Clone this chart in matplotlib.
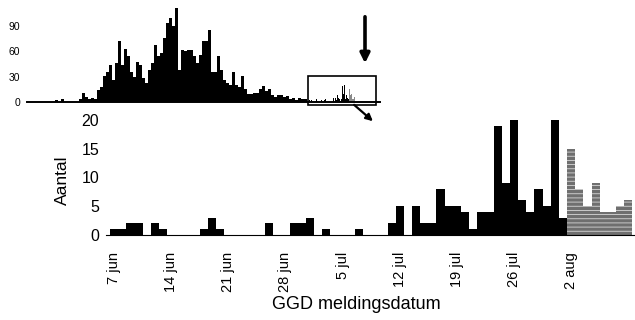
import numpy as np
import matplotlib
matplotlib.use("Agg")
import matplotlib.pyplot as plt
from matplotlib.patches import Rectangle, FancyArrowPatch

plt.rcParams['font.family'] = ['Liberation Sans', 'DejaVu Sans']
plt.rcParams['hatch.linewidth'] = 0.6

# ---------------- data ----------------
# daily notifications from 7 jun (day 0) to 9 aug (day 63)
main_counts = [1, 1, 2, 2, 0, 2, 1, 0, 0, 0,
               0, 1, 3, 1, 0, 0, 0, 0, 0, 2,
               0, 0, 2, 2, 3, 0, 1, 0, 0, 0,
               1, 0, 0, 0, 2, 5, 0, 5, 2, 2,
               8, 5, 5, 4, 1, 4, 4, 19, 9, 20,
               6, 4, 8, 5, 20, 3, 15, 8, 5, 9,
               4, 4, 5, 6]
incomplete_from = 56          # days from this index on are shown grey (incomplete)
tick_days = [0, 7, 14, 21, 28, 35, 42, 49, 56]
tick_labels = ['7 jun', '14 jun', '21 jun', '28 jun', '5 jul', '12 jul',
               '19 jul', '26 jul', '2 aug']

# inset: earlier course of the outbreak, 4-day bins starting 336 days before 7 jun
inset_bin_days = 4
inset_start_day = -336
inset_early = [2, 0, 3, 0, 0, 0, 0, 0, 3, 11,
               6, 4, 5, 4, 14, 18, 31, 36, 44, 26,
               46, 72, 44, 63, 54, 36, 30, 48, 44, 28,
               23, 38, 46, 68, 54, 58, 76, 94, 100, 90,
               111, 38, 62, 60, 62, 62, 55, 46, 56, 72,
               72, 85, 36, 36, 54, 38, 26, 22, 20, 35,
               20, 18, 31, 16, 10, 10, 11, 11, 15, 19,
               13, 15, 8, 6, 8, 8, 6, 7, 3, 5,
               2, 5, 3, 3]
inset_yticks = [0, 30, 60, 90]

# ---------------- figure ----------------
W, H = 635, 320
fig = plt.figure(figsize=(W / 100, H / 100), dpi=100)

def fbox(x0, y0, x1, y1):
    # pixel box (top-left origin) -> figure fraction rect
    return [x0 / W, 1 - y1 / H, (x1 - x0) / W, (y1 - y0) / H]

# ---- main axes ----
ax = fig.add_axes(fbox(106, 110, 634, 235))
days = np.arange(len(main_counts))
vals = np.array(main_counts)
complete = days < incomplete_from
ax.bar(days[complete], vals[complete], width=1.0, color='black', linewidth=0)
ax.bar(days[~complete], vals[~complete], width=1.0, color='#6f6f6f',
       edgecolor='#d8d8d8', hatch='----', linewidth=0)
ax.set_xlim(-0.99, 63.7)
ax.set_ylim(0, 21.7)
ax.set_yticks([0, 5, 10, 15, 20])
ax.set_xticks(tick_days)
ax.set_xticklabels(tick_labels, rotation=90, fontsize=10.5)
ax.tick_params(axis='y', length=0, pad=5, labelsize=11.5)
ax.tick_params(axis='x', length=0, pad=12)
for s in ['top', 'right', 'left']:
    ax.spines[s].set_visible(False)
ax.spines['bottom'].set_linewidth(0.8)
ax.set_ylabel('Aantal', fontsize=12.5)
ax.yaxis.set_label_coords(-0.068, 0.44)
ax.set_xlabel('GGD meldingsdatum', fontsize=13)
ax.xaxis.set_label_coords(0.475, -0.49)

# ---- inset ----
axi = fig.add_axes(fbox(27, 5, 380, 102))
axi.patch.set_alpha(0)
early_x = inset_start_day + inset_bin_days * np.arange(len(inset_early))
axi.bar(early_x, inset_early, width=inset_bin_days, align='edge',
        color='black', linewidth=0)
axi.bar(days[complete], vals[complete], width=1.0, align='edge',
        color='black', linewidth=0)
axi.bar(days[~complete], vals[~complete], width=1.0, align='edge',
        color='#8a8a8a', linewidth=0)
axi.set_xlim(-373.3, 97.3)
axi.set_ylim(0, 115)
axi.set_yticks(inset_yticks)
axi.set_xticks([])
axi.tick_params(axis='y', length=0, pad=5, labelsize=7.5)
for s in ['top', 'right', 'left']:
    axi.spines[s].set_visible(False)
axi.spines['bottom'].set_linewidth(1.4)
axi.add_patch(Rectangle((1, -3.5), 91, 34.5, fill=False, edgecolor='black',
                        linewidth=1.2, clip_on=False))

# ---- arrows (figure pixel coordinates) ----
def fp(x, y):
    return (x / W, 1 - y / H)

fig.add_artist(FancyArrowPatch(
    fp(365, 14), fp(365, 66), transform=fig.transFigure,
    arrowstyle='-|>', mutation_scale=14, linewidth=2.6, color='black'))
fig.add_artist(FancyArrowPatch(
    fp(352, 103), fp(375, 123), transform=fig.transFigure,
    arrowstyle='-|>', mutation_scale=10, linewidth=1.6, color='black'))

fig.savefig('out.png', dpi=100)
